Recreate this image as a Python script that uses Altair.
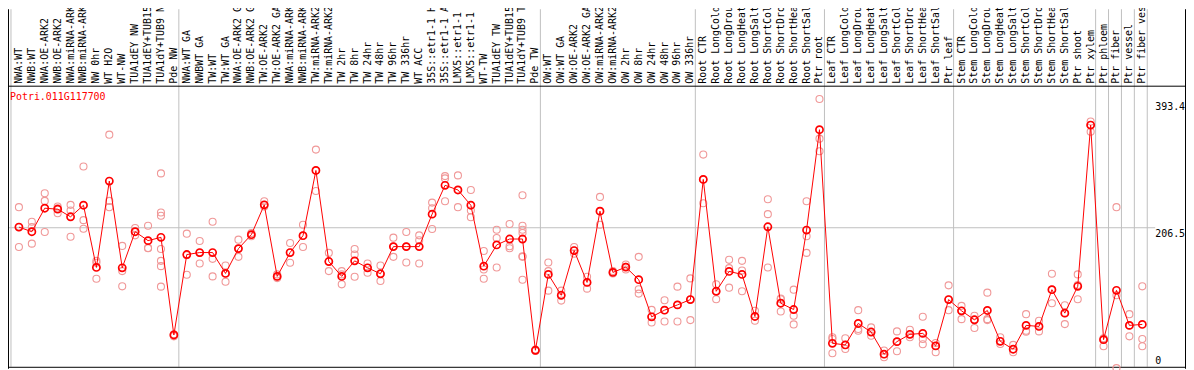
import altair as alt
import pandas as pd

gene = "Potri.011G117700"

labels = [
    "NWA:WT", "NWB:WT", "NWA:OE-ARK2", "NWB:OE-ARK2", "NWA:miRNA-ARK2", "NWB:miRNA-ARK2",
    "NW 0hr", "WT H2O", "WT-NW", "TUA1dEY NW", "TUA1dEY+TUB15 NW", "TUA1dY+TUB9 NW", "Pde NW",
    "NWA:WT GA", "NWBWT GA", "TW:WT", "TW:WT GA", "NWA:OE-ARK2 GA", "NWB:OE-ARK2 GA",
    "TW:OE-ARK2", "TW:OE-ARK2 GA", "NWA:miRNA-ARK2", "NWB:miRNA-ARK2", "TW:miRNA-ARK2",
    "TW:miRNA-ARK2", "TW 2hr", "TW 8hr", "TW 24hr", "TW 48hr", "TW 96hr", "TW 336hr", "WT ACC",
    "35S::etr1-1 H2O", "35S::etr1-1 ACC", "LMX5::etr1-1 H2O", "LMX5::etr1-1 ACC", "WT-TW",
    "TUA1dEY TW", "TUA1dEY+TUB15 TW", "TUA1dY+TUB9 TW", "Pde TW",
    "OW:WT", "OW:WT GA", "OW:OE-ARK2", "OW:OE-ARK2 GA", "OW:miRNA-ARK2", "OW:miRNA-ARK2",
    "OW 2hr", "OW 8hr", "OW 24hr", "OW 48hr", "OW 96hr", "OW 336hr",
    "Root CTR", "Root LongCold", "Root LongDrought", "Root LongHeat", "Root LongSalt",
    "Root ShortCold", "Root ShortDrought", "Root ShortHeat", "Root ShortSalt", "Ptr root",
    "Leaf CTR", "Leaf LongCold", "Leaf LongDrought", "Leaf LongHeat", "Leaf LongSalt",
    "Leaf ShortCold", "Leaf ShortDrought", "Leaf ShortHeat", "Leaf ShortSalt", "Ptr leaf",
    "Stem CTR", "Stem LongCold", "Stem LongDrought", "Stem LongHeat", "Stem LongSalt",
    "Stem ShortCold", "Stem ShortDrought", "Stem ShortHeat", "Stem ShortSalt", "Ptr shoot",
    "Ptr xylem", "Ptr phloem", "Ptr fiber", "Ptr vessel", "Ptr fiber vessel",
]

group_sizes = [13, 28, 12, 10, 10, 11, 1, 1, 1, 1]

means = [
    207.5, 200.3, 236.8, 235.3, 223.5, 241.4, 144.9, 278.9, 144.3, 200.3, 186.5, 191.6, 40.1,
    164.9, 168.0, 168.0, 135.6, 174.1, 195.7, 242.0, 131.0, 168.0, 194.2, 295.4, 154.1, 131.0,
    155.1, 144.3, 135.1, 177.2, 177.2, 177.2, 227.6, 272.3, 265.1, 241.4, 146.9, 179.8, 189.0,
    189.0, 16.4,
    134.1, 101.7, 171.1, 121.7, 232.2, 137.2, 145.4, 125.9, 68.3, 78.6, 86.8, 95.0,
    281.5, 107.9, 138.7, 134.1, 68.8, 208.0, 89.4, 79.6, 202.9, 358.6,
    27.2, 24.7, 58.0, 44.7, 10.3, 29.8, 41.1, 42.6, 23.1, 95.0,
    77.6, 63.7, 78.1, 30.3, 18.0, 55.0, 53.4, 110.4, 74.0, 115.6, 365.8,
    32.9, 109.4, 55.0, 56.5,
]

replicates = [
    [238.4, 207.5, 176.7], [215.8, 207.5, 181.8], [259.9, 248.1, 199.8], [239.4, 236.8, 229.1],
    [242.0, 233.2, 192.6], [301.5, 218.3, 205.0], [155.1, 152.1, 127.4], [350.9, 248.1, 238.4],
    [178.3, 139.2, 115.6], [206.0, 200.3, 194.7], [209.6, 175.2, 174.7],
    [290.8, 230.1, 225.0, 173.6, 155.1, 146.9, 115.1], [41.1, 40.1, 38.0],
    [197.3, 163.9, 133.6], [186.0, 167.5, 151.0], [215.8, 158.2, 131.0], [147.9, 135.6, 122.8],
    [188.0, 174.1, 161.3], [198.3, 195.7, 193.2], [247.6, 242.0, 239.4], [134.1, 131.0, 128.4],
    [182.9, 168.0, 152.1], [211.1, 194.2, 176.7], [327.7, 295.4, 263.5], [167.5, 154.1, 139.2],
    [139.2, 134.1, 118.7], [173.6, 164.9, 130.5], [151.0, 144.3, 136.6], [147.9, 135.1, 123.8],
    [191.1, 177.2, 161.3], [199.8, 177.2, 152.6], [194.7, 187.0, 151.0], [245.5, 236.8, 204.5],
    [286.6, 283.0, 247.6], [287.7, 265.1, 238.4], [265.1, 233.2, 222.9], [170.5, 141.8, 127.4],
    [203.4, 190.6, 144.9], [212.2, 177.7, 174.7],
    [256.9, 209.6, 203.4, 198.3, 162.3, 161.3, 125.9], [17.4, 16.4, 15.4],
    [152.6, 139.2, 108.9], [108.9, 101.7, 93.5], [176.7, 171.1, 166.4], [130.5, 121.7, 112.0],
    [254.3, 232.2, 211.1], [139.2, 137.2, 135.6], [149.5, 145.9, 141.8], [161.3, 111.0, 104.3],
    [79.1, 68.3, 59.6], [94.0, 78.6, 61.1], [115.1, 86.8, 61.1], [127.9, 95.0, 63.2],
    [320.0, 281.5, 244.5], [118.7, 107.9, 95.5], [156.7, 143.8, 113.5], [155.1, 140.2, 107.9],
    [77.6, 68.8, 62.2], [250.7, 227.6, 144.9], [96.6, 95.5, 76.5], [110.4, 69.9, 56.5],
    [247.6, 193.2, 167.5], [406.3, 344.7, 325.2],
    [36.5, 33.9, 11.8], [34.9, 24.7, 18.5], [78.6, 49.3, 46.7], [51.9, 44.7, 39.0],
    [15.9, 10.3, 5.7], [45.7, 29.8, 14.9], [48.3, 41.1, 36.5], [68.3, 33.9, 25.7],
    [27.7, 23.1, 13.4], [117.1, 95.0, 78.6],
    [85.3, 77.6, 64.7], [69.9, 63.7, 50.9], [105.8, 64.7, 63.2], [36.5, 30.3, 26.2],
    [24.7, 18.0, 13.4], [72.4, 46.7, 45.2], [62.2, 53.4, 45.7], [135.1, 110.4, 89.4],
    [86.3, 74.0, 57.0], [134.1, 117.6, 95.5], [371.4, 365.8, 355.5],
    [34.9, 32.9, 22.6], [238.4, 101.7, -11.3], [72.4, 55.0, 38.0], [115.6, 33.9, 22.6],
]

tick_values = [393.4, 206.5, 0]
tick_labels = ["393.4", "206.5", "0"]

# ---- tables ----
n = len(labels)
df_mean = pd.DataFrame({"idx": list(range(n)), "label": labels, "mean": means})
df_rep = pd.DataFrame(
    [{"idx": i, "value": v} for i, rs in enumerate(replicates) for v in rs]
)
starts = [0]
for g in group_sizes:
    starts.append(starts[-1] + g)
df_bounds = pd.DataFrame({"b": [k - 8 / 13 for k in starts]})
df_ticks = pd.DataFrame({"v": tick_values, "t": tick_labels})
df_one = pd.DataFrame({"gene": [gene]})

W, H = 1186, 362
FONT = "DejaVu Sans Mono"
xs = alt.Scale(domain=[0, n - 1], range=[11, 11 + 13 * (n - 1)], nice=False, zero=False)
ys = alt.Scale(domain=[0, 413], range=[354, 86], nice=False, zero=False)

vlines = alt.Chart(df_bounds).mark_rule(color="#c0c0c0", strokeWidth=1).encode(
    x=alt.X("b:Q", scale=xs, axis=None), y=alt.value(0), y2=alt.value(360)
)
hgrid = alt.Chart(df_ticks[df_ticks["t"] == "206.5"]).mark_rule(
    color="#c0c0c0", strokeWidth=1
).encode(y=alt.Y("v:Q", scale=ys, axis=None), x=alt.value(0), x2=alt.value(1155))

frame_top = alt.Chart(df_one).mark_rule(color="black", strokeWidth=1).encode(
    x=alt.value(0), x2=alt.value(W), y=alt.value(77.5)
)
frame_bottom = alt.Chart(df_one).mark_rule(color="black", strokeWidth=1).encode(
    x=alt.value(0), x2=alt.value(W), y=alt.value(360.5)
)
frame_left = alt.Chart(df_one).mark_rule(color="black", strokeWidth=1).encode(
    x=alt.value(0.5), y=alt.value(0), y2=alt.value(H)
)
frame_right = alt.Chart(df_one).mark_rule(color="black", strokeWidth=1).encode(
    x=alt.value(W - 0.5), y=alt.value(0), y2=alt.value(H)
)

cat_text = alt.Chart(df_mean).mark_text(
    angle=270, align="left", baseline="middle", font=FONT, fontSize=10, color="black"
).encode(x=alt.X("idx:Q", scale=xs, axis=None), y=alt.value(75), text="label:N")

gene_text = alt.Chart(df_one).mark_text(
    align="left", baseline="middle", font=FONT, fontSize=10, color="#ff0000"
).encode(x=alt.value(2), y=alt.value(88), text="gene:N")

tick_text = alt.Chart(df_ticks[df_ticks["t"] != "206.5"]).mark_text(
    align="left", baseline="middle", font=FONT, fontSize=10, color="black"
).encode(y=alt.Y("v:Q", scale=ys, axis=None), x=alt.value(1155), text="t:N")
tick_text_mid = alt.Chart(df_ticks[df_ticks["t"] == "206.5"]).mark_text(
    align="left", baseline="top", dy=1, font=FONT, fontSize=10, color="black"
).encode(y=alt.Y("v:Q", scale=ys, axis=None), x=alt.value(1155), text="t:N")

rep_pts = alt.Chart(df_rep).mark_point(
    shape="circle", filled=False, size=50, strokeWidth=1.1, color="#f09898", opacity=1
).encode(x=alt.X("idx:Q", scale=xs, axis=None), y=alt.Y("value:Q", scale=ys, axis=None))

line = alt.Chart(df_mean).mark_line(color="#ff0000", strokeWidth=1).encode(
    x=alt.X("idx:Q", scale=xs, axis=None), y=alt.Y("mean:Q", scale=ys, axis=None)
)
mean_pts = alt.Chart(df_mean).mark_point(
    shape="circle", filled=False, size=52, strokeWidth=1.7, color="#ff0000", opacity=1
).encode(x=alt.X("idx:Q", scale=xs, axis=None), y=alt.Y("mean:Q", scale=ys, axis=None))

chart = alt.layer(
    vlines, hgrid, frame_top, frame_bottom, frame_left, frame_right,
    cat_text, gene_text, tick_text, tick_text_mid, rep_pts, line, mean_pts,
).properties(
    width=W, height=H, autosize=alt.AutoSizeParams(type="none"), padding=0,
    background="white",
).configure_view(stroke=None)

chart.save("out.html", embed_options={"renderer": "svg", "actions": False})
